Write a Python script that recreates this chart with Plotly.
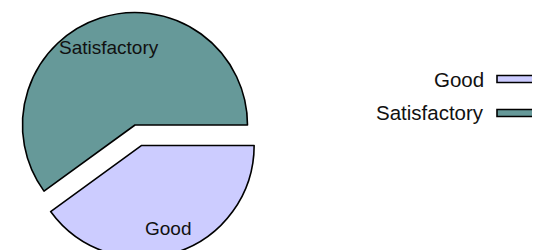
import math
import plotly.graph_objects as go

# ---- data ----
labels = ["Good", "Satisfactory"]
values = [40, 60]
colors = ["#ccccff", "#669999"]
pulled = "Good"   # slice drawn exploded

W, H = 540, 250
FONT = "Liberation Sans, Arial, sans-serif"

# pie geometry (pixels)
R = 112.5
CENTER = (127.0, 117.0)          # centre of the un-pulled slices
PULL_PX = 21.5                   # explode distance for the pulled slice
START_DEG = 0.0                  # first slice starts at 3 o'clock, goes clockwise

total = float(sum(values))
fracs = [v / total for v in values]
mids = []
acc = 0.0
for f in fracs:
    mids.append(START_DEG + 360.0 * (acc + f / 2))   # clockwise degrees from 3 o'clock
    acc += f


def slice_center(lab):
    if lab != pulled:
        return CENTER
    a = math.radians(mids[labels.index(lab)])
    return (CENTER[0] + PULL_PX * math.cos(a), CENTER[1] + PULL_PX * math.sin(a))


fig = go.Figure()


def pie_layer(show_label):
    cx, cy = slice_center(show_label)
    vis = [lab == show_label for lab in labels]
    dx = [(cx - R - 4) / W, (cx + R + 4) / W]
    dy = [1 - (cy + R) / H, 1 - (cy - R) / H]
    fig.add_trace(go.Pie(
        labels=labels,
        values=values,
        sort=False,
        direction="clockwise",
        rotation=90 + START_DEG,
        domain=dict(x=dx, y=dy),
        marker=dict(
            colors=[c if v else "rgba(0,0,0,0)" for c, v in zip(colors, vis)],
            line=dict(color="#000000", width=[1.6 if v else 0 for v in vis]),
        ),
        textinfo="none",
        hoverinfo="label+percent",
        showlegend=False,
    ))


for lab in labels:
    if lab != pulled:
        pie_layer(lab)
pie_layer(pulled)

# slice labels along each slice's bisector
for lab, m in zip(labels, mids):
    cx, cy = slice_center(lab)
    a = math.radians(m)
    px = cx + 0.75 * R * math.cos(a)
    py = cy + 0.75 * R * math.sin(a) + 3
    fig.add_annotation(
        x=px / W, y=1 - py / H, xref="paper", yref="paper",
        text=lab, showarrow=False, xanchor="center", yanchor="middle",
        font=dict(family=FONT, size=19, color="#111111"),
    )

# legend (text to the left of the swatch)
text_right = 478
sw_x0, sw_x1 = 489, 534
row_y0, row_dy = 71, 34
sw_h = 7
for i, (lab, col) in enumerate(zip(labels, colors)):
    yc = row_y0 + i * row_dy
    fig.add_annotation(
        x=text_right / W, y=1 - yc / H, xref="paper", yref="paper",
        text=lab, showarrow=False, xanchor="right", yanchor="middle",
        font=dict(family=FONT, size=20.5, color="#111111"),
    )
    fig.add_shape(
        type="rect", xref="paper", yref="paper",
        x0=sw_x0 / W, x1=sw_x1 / W,
        y0=1 - (yc - sw_h / 2) / H, y1=1 - (yc + sw_h / 2) / H,
        fillcolor=col, line=dict(color="#000000", width=1.6),
    )

fig.update_layout(
    width=W, height=H,
    margin=dict(l=0, r=0, t=0, b=0),
    paper_bgcolor="#ffffff",
    plot_bgcolor="#ffffff",
    showlegend=False,
    font=dict(family=FONT),
)

fig.write_html("out.html")
